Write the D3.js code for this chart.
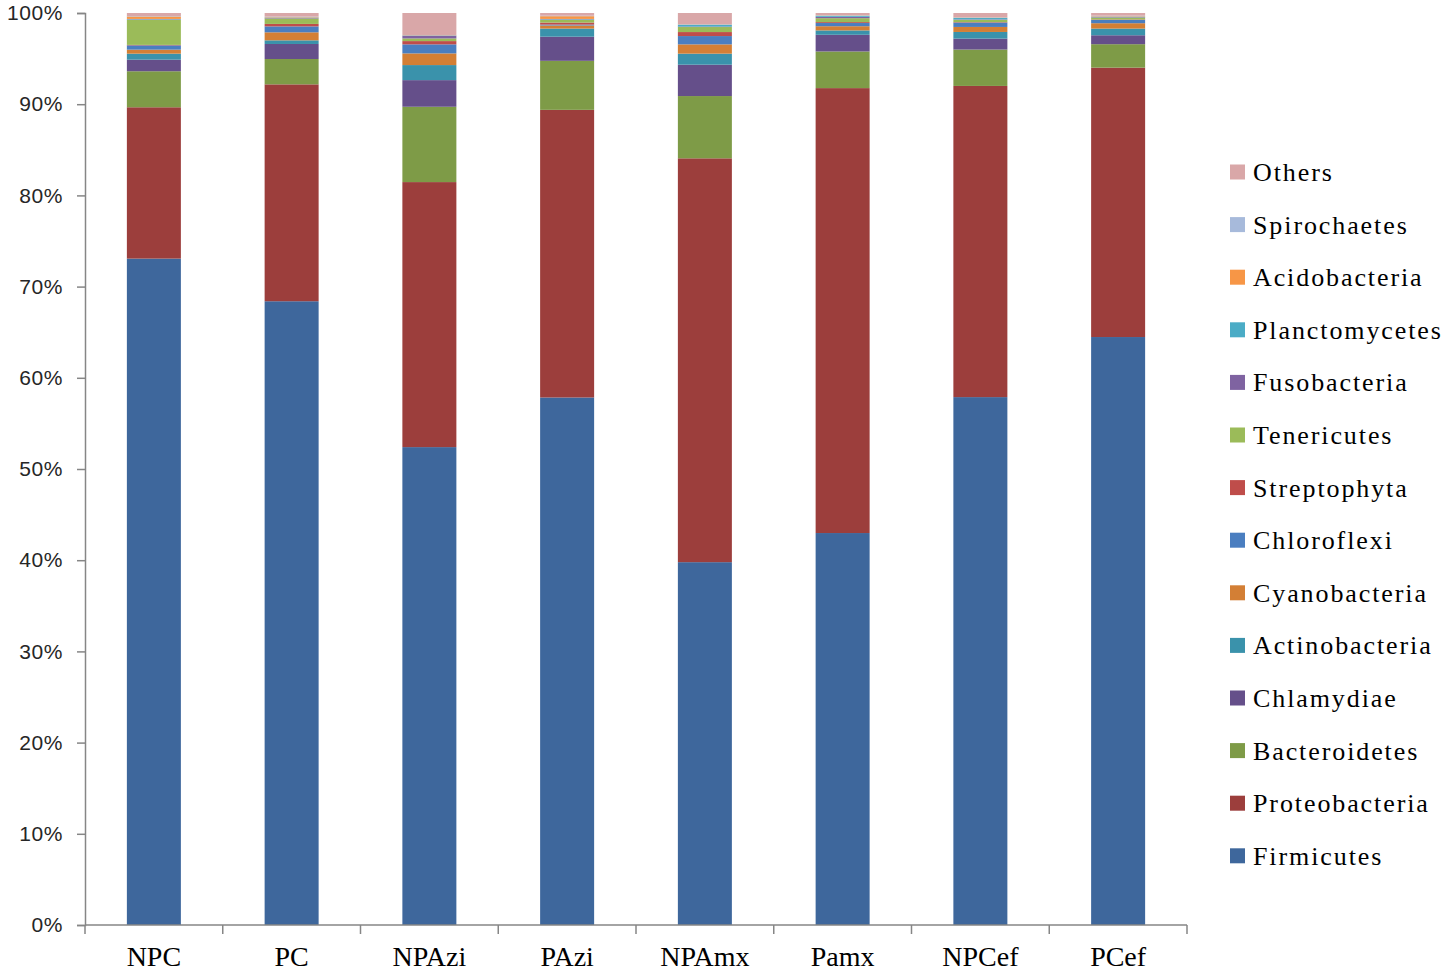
<!DOCTYPE html>
<head>
	<meta charset="utf-8" />
	<style>
		body {
			margin: 0;
			background: #fff;
		}
		.ytick text {
			font: 21px 'Liberation Sans', Arial, sans-serif;
			letter-spacing: 0.6px;
			fill: #262626;
		}
		.xlabel {
			font: 28px 'Liberation Serif', 'Times New Roman', serif;
			fill: #000;
		}
		.legend text {
			font: 26px 'Liberation Serif', 'Times New Roman', serif;
			letter-spacing: 1.9px;
			fill: #000;
		}
	</style>
</head>

<body>
	<div id="chart-area"></div>

	<script src="https://cdnjs.cloudflare.com/ajax/libs/d3/7.8.5/d3.min.js"></script>
	<script>
		var samples = ['NPC', 'PC', 'NPAzi', 'PAzi', 'NPAmx', 'Pamx', 'NPCef', 'PCef'];

		// stacking order, bottom to top
		var phyla = [
			'Firmicutes', 'Proteobacteria', 'Bacteroidetes', 'Chlamydiae',
			'Actinobacteria', 'Cyanobacteria', 'Chloroflexi', 'Streptophyta',
			'Tenericutes', 'Fusobacteria', 'Planctomycetes', 'Acidobacteria',
			'Spirochaetes', 'Others',
		];

		var colors = [
			'#3e679c', '#9c3e3c', '#7e9b47', '#654f8a',
			'#3a92ab', '#d37f35', '#4a7ec0', '#bf4d4a',
			'#9bbb59', '#7f63a1', '#4bacc6', '#f79646',
			'#a7badb', '#d9a7a8',
		];

		// relative abundance (%), one array per phylum, in sample order
		var Firmicutes     = [73.1, 68.45, 52.4, 57.9, 39.8, 43.0, 57.9, 64.47];
		var Proteobacteria = [16.6, 23.8, 29.06, 31.57, 44.3, 48.81, 34.13, 29.54];
		var Bacteroidetes  = [3.95, 2.78, 8.26, 5.38, 6.83, 4.02, 3.99, 2.57];
		var Chlamydiae     = [1.27, 1.65, 2.92, 2.65, 3.44, 1.83, 1.2, 0.98];
		var Actinobacteria = [0.66, 0.4, 1.65, 0.89, 1.21, 0.48, 0.73, 0.73];
		var Cyanobacteria  = [0.44, 0.88, 1.28, 0.34, 1.02, 0.46, 0.55, 0.59];
		var Chloroflexi    = [0.47, 0.65, 0.99, 0.1, 0.91, 0.35, 0.48, 0.36];
		var Streptophyta   = [0.05, 0.27, 0.36, 0.22, 0.44, 0.1, 0.05, 0.05];
		var Tenericutes    = [2.75, 0.6, 0.29, 0.3, 0.55, 0.43, 0.25, 0.21];
		var Fusobacteria   = [0.05, 0.05, 0.3, 0.05, 0.05, 0.15, 0.05, 0.05];
		var Planctomycetes = [0.05, 0.05, 0.03, 0.05, 0.21, 0.1, 0.15, 0.05];
		var Acidobacteria  = [0.27, 0.05, 0.03, 0.3, 0.02, 0.05, 0.05, 0.05];
		var Spirochaetes   = [0.05, 0.05, 0.02, 0.05, 0.02, 0.05, 0.05, 0.05];
		var Others         = [0.33, 0.4, 2.41, 0.3, 1.24, 0.22, 0.45, 0.3];

		var series = {
			Firmicutes, Proteobacteria, Bacteroidetes, Chlamydiae, Actinobacteria,
			Cyanobacteria, Chloroflexi, Streptophyta, Tenericutes, Fusobacteria,
			Planctomycetes, Acidobacteria, Spirochaetes, Others,
		};

		var table = samples.map((s, i) => {
			var row = { sample: s };
			phyla.forEach(p => (row[p] = series[p][i]));
			return row;
		});

		var width = 1450,
			height = 975;
		var margins = { top: 13, right: 263, bottom: 50, left: 85 };

		var svg = d3
			.select('#chart-area')
			.append('svg')
			.attr('width', width)
			.attr('height', height);

		var x = d3
			.scaleBand()
			.domain(samples)
			.range([margins.left, width - margins.right])
			.paddingInner(0.608)
			.paddingOuter(0.304);

		var y = d3
			.scaleLinear()
			.domain([0, 1])
			.range([height - margins.bottom, margins.top]);

		var color = d3.scaleOrdinal().domain(phyla).range(colors);

		var stacked = d3.stack().keys(phyla).offset(d3.stackOffsetExpand)(table);

		svg.append('g')
			.selectAll('g')
			.data(stacked)
			.join('g')
			.attr('fill', d => color(d.key))
			.selectAll('rect')
			.data(d => d)
			.join('rect')
			.attr('x', d => x(d.data.sample))
			.attr('width', x.bandwidth())
			.attr('y', d => y(d[1]))
			.attr('height', d => y(d[0]) - y(d[1]));

		// y axis
		var yAxis = svg
			.append('g')
			.attr('transform', `translate(${margins.left},0)`)
			.call(
				d3.axisLeft(y)
					.tickValues(d3.range(0, 11).map(v => v / 10))
					.tickFormat(d3.format('.0%'))
					.tickSize(8)
					.tickPadding(14)
			);
		yAxis.selectAll('.tick').attr('class', 'tick ytick');
		yAxis.selectAll('line, path').attr('stroke', '#868686').attr('stroke-width', 1.5);

		// x axis: baseline, ticks between categories, serif labels
		var x0 = x.range()[0],
			x1 = x.range()[1],
			y0 = y(0);
		var xAxis = svg.append('g');
		xAxis.append('line')
			.attr('x1', x0)
			.attr('x2', x1)
			.attr('y1', y0)
			.attr('y2', y0)
			.attr('stroke', '#868686')
			.attr('stroke-width', 1.5);
		xAxis.selectAll('.xt')
			.data(d3.range(samples.length + 1))
			.join('line')
			.attr('class', 'xt')
			.attr('x1', i => x0 + i * x.step())
			.attr('x2', i => x0 + i * x.step())
			.attr('y1', y0)
			.attr('y2', y0 + 9)
			.attr('stroke', '#868686')
			.attr('stroke-width', 1.5);
		xAxis.selectAll('.xlabel')
			.data(samples)
			.join('text')
			.attr('class', 'xlabel')
			.attr('x', d => x(d) + x.bandwidth() / 2)
			.attr('y', y0 + 41)
			.attr('text-anchor', 'middle')
			.text(d => d);

		// legend, top to bottom = reverse stack order
		var legend = svg
			.append('g')
			.attr('class', 'legend')
			.selectAll('g')
			.data(phyla.slice().reverse())
			.join('g')
			.attr('transform', (d, i) => `translate(1230,${172 + i * 52.6})`);
		legend.append('rect')
			.attr('x', 0)
			.attr('y', -7.5)
			.attr('width', 15)
			.attr('height', 15)
			.attr('fill', d => color(d));
		legend.append('text')
			.attr('x', 23)
			.attr('y', 9)
			.text(d => d);
	</script>
</body>
